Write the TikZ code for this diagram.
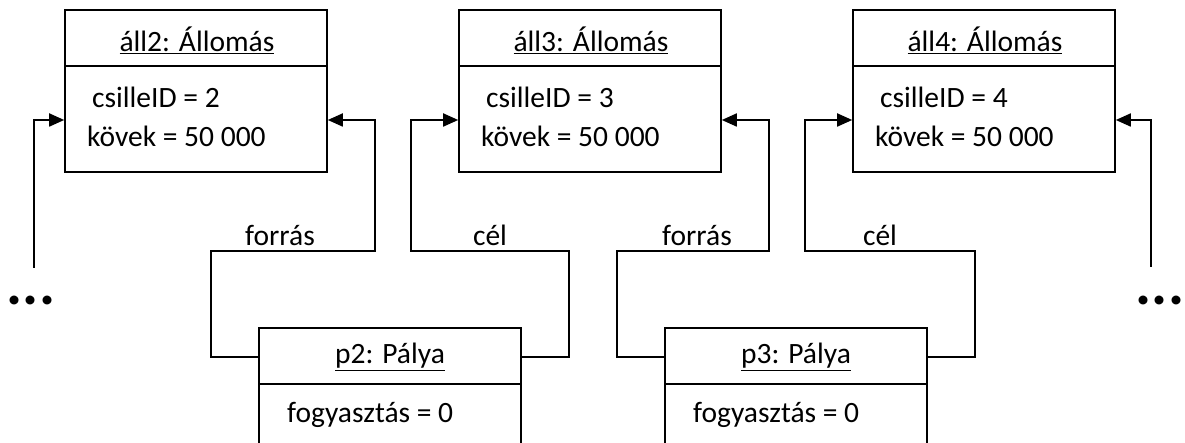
\documentclass[tikz,border=0pt]{standalone}
\usepackage{fontspec}
\setmainfont{Carlito}
\usetikzlibrary{arrows.meta}
\begin{document}
\begin{tikzpicture}[x=1pt,y=-1pt,
  objbox/.style={draw, line width=1.6pt, minimum width=262pt, inner sep=0pt},
  divline/.style={line width=1.6pt},
  conn/.style={line width=1.8pt, -{Triangle[length=15pt,width=13pt]}},
  ttl/.style={font=\fontsize{29.5}{32}\selectfont, inner sep=0pt},
  attr/.style={font=\fontsize{29.5}{32}\selectfont, inner sep=0pt, anchor=west},
  lbl/.style={font=\fontsize{29.5}{32}\selectfont, inner sep=0pt},
  dots/.style={font=\fontsize{60}{62}\bfseries\selectfont, inner sep=0pt}]
\clip (0,0) rectangle (1185,443);
% station boxes
\node[objbox, minimum height=162pt] (a2) at (196,91) {};
\node[objbox, minimum height=162pt] (a3) at (590,91) {};
\node[objbox, minimum height=162pt] (a4) at (984,91) {};
\draw[divline] (a2.west |- 0,66) -- (a2.east |- 0,66);
\draw[divline] (a3.west |- 0,66) -- (a3.east |- 0,66);
\draw[divline] (a4.west |- 0,66) -- (a4.east |- 0,66);
\node[ttl] (a2t) at (197,40) {\underline{áll2: Állomás}};
\node[ttl] (a3t) at (591,40) {\underline{áll3: Állomás}};
\node[ttl] (a4t) at (985,40) {\underline{áll4: Állomás}};
\node[attr] (a2i) at (92,97) {csilleID = 2};
\node[attr] (a2k) at (87,136) {kövek = 50 000};
\node[attr] (a3i) at (486,97) {csilleID = 3};
\node[attr] (a3k) at (481,136) {kövek = 50 000};
\node[attr] (a4i) at (880,97) {csilleID = 4};
\node[attr] (a4k) at (875,136) {kövek = 50 000};
% track boxes
\node[objbox, minimum height=160pt] (p2) at (390,408) {};
\node[objbox, minimum height=160pt] (p3) at (796,408) {};
\draw[divline] (p2.west |- 0,384) -- (p2.east |- 0,384);
\draw[divline] (p3.west |- 0,384) -- (p3.east |- 0,384);
\node[ttl] (p2t) at (390,357) {\underline{p2: Pálya}};
\node[ttl] (p3t) at (796,357) {\underline{p3: Pálya}};
\node[attr] (p2f) at (287,415) {fogyasztás = 0};
\node[attr] (p3f) at (693,415) {fogyasztás = 0};
% connectors
\draw[conn] (p2.west |- p2t) -| (211,251) -| (375,120) -- (a2.east |- 0,120);
\draw[conn] (p2.east |- p2t) -| (569,251) -| (411,120) -- (a3.west |- 0,120);
\draw[conn] (p3.west |- p3t) -| (617,251) -| (769,120) -- (a3.east |- 0,120);
\draw[conn] (p3.east |- p3t) -| (975,251) -| (805,120) -- (a4.west |- 0,120);
\coordinate (lend) at (34,268);
\coordinate (rend) at (1151,267);
\draw[conn] (lend) |- (a2.west |- 0,120);
\draw[conn] (rend) |- (a4.east |- 0,120);
% labels
\node[lbl] (l1) at (280,235) {forrás};
\node[lbl] (l2) at (490,235) {cél};
\node[lbl] (l3) at (697,235) {forrás};
\node[lbl] (l4) at (880,235) {cél};
\node[dots] (d1) at (31,300) {...};
\node[dots] (d2) at (1160,300) {...};
\end{tikzpicture}
\end{document}
